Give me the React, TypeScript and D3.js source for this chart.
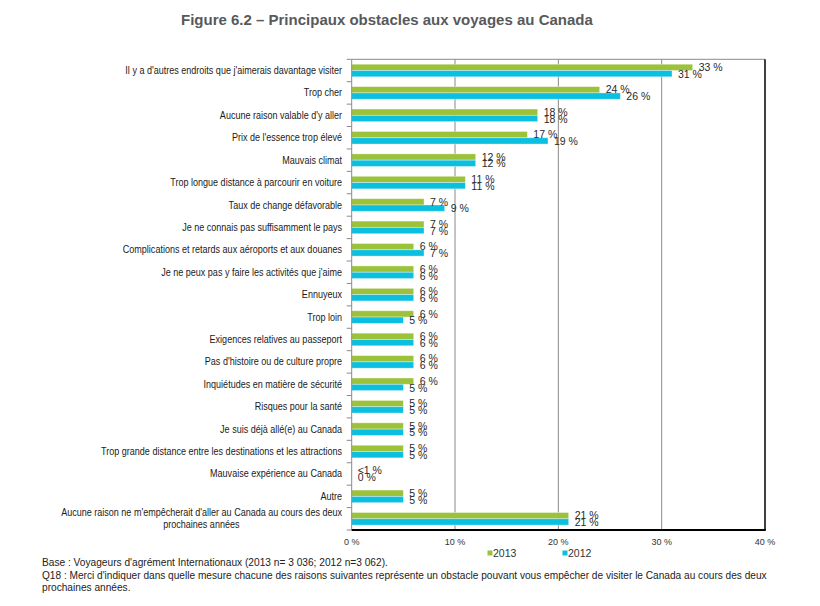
import React, { useEffect, useRef } from "react";
import * as d3 from "d3";

const categories: string[] = [
  "Il y a d'autres endroits que j'aimerais davantage visiter",
  "Trop cher",
  "Aucune raison valable d'y aller",
  "Prix de l'essence trop élevé",
  "Mauvais climat",
  "Trop longue distance à parcourir en voiture",
  "Taux de change défavorable",
  "Je ne connais pas suffisamment le pays",
  "Complications et retards aux aéroports et aux douanes",
  "Je ne peux pas y faire les activités que j'aime",
  "Ennuyeux",
  "Trop loin",
  "Exigences relatives au passeport",
  "Pas d'histoire ou de culture propre",
  "Inquiétudes en matière de sécurité",
  "Risques pour la santé",
  "Je suis déjà allé(e) au Canada",
  "Trop grande distance entre les destinations et les attractions",
  "Mauvaise expérience au Canada",
  "Autre",
  "Aucune raison ne m'empêcherait d'aller au Canada au cours des deux|prochaines années",
];

const values2013: number[] = [33, 24, 18, 17, 12, 11, 7, 7, 6, 6, 6, 6, 6, 6, 6, 5, 5, 5, 0, 5, 21];
const values2012: number[] = [31, 26, 18, 19, 12, 11, 9, 7, 7, 6, 6, 5, 6, 6, 5, 5, 5, 5, 0, 5, 21];
const labels2013: string[] = ["33 %", "24 %", "18 %", "17 %", "12 %", "11 %", "7 %", "7 %", "6 %", "6 %", "6 %", "6 %", "6 %", "6 %", "6 %", "5 %", "5 %", "5 %", "<1 %", "5 %", "21 %"];
const labels2012: string[] = ["31 %", "26 %", "18 %", "19 %", "12 %", "11 %", "9 %", "7 %", "7 %", "6 %", "6 %", "5 %", "6 %", "6 %", "5 %", "5 %", "5 %", "5 %", "0 %", "5 %", "21 %"];
const xTicks: number[] = [0, 10, 20, 30, 40];
const seriesNames: string[] = ["2013", "2012"];

const title = "Figure 6.2 – Principaux obstacles aux voyages au Canada";
const noteLines: string[] = [
  "Base : Voyageurs d'agrément Internationaux (2013 n= 3 036; 2012 n=3 062).",
  "Q18 : Merci d'indiquer dans quelle mesure chacune des raisons suivantes représente un obstacle pouvant vous empêcher de visiter le Canada au cours des deux",
  "prochaines années.",
];

const GREEN = "#9cc23a";
const CYAN = "#0abfdf";
const FONT = "'Liberation Sans', Arial, Helvetica, sans-serif";

export default function App() {
  const ref = useRef<SVGSVGElement | null>(null);

  useEffect(() => {
    const svg = d3.select(ref.current);
    svg.selectAll("*").remove();

    const left = 351.7, right = 765, top = 59.3, bottom = 530;
    const x = d3.scaleLinear().domain([0, 40]).range([left, right]);
    const y = d3.scaleBand<number>().domain(d3.range(categories.length)).range([top, bottom]);
    const bh = 6.3;

    // gridlines
    svg.append("g").selectAll("line").data(xTicks.slice(1, -1)).join("line")
      .attr("x1", d => x(d)).attr("x2", d => x(d)).attr("y1", top).attr("y2", bottom)
      .attr("stroke", "#8a8a8a").attr("stroke-width", 1);
    // top border
    svg.append("line").attr("x1", left).attr("x2", right).attr("y1", top).attr("y2", top)
      .attr("stroke", "#8a8a8a").attr("stroke-width", 1);

    // bars
    const g = svg.append("g");
    categories.forEach((_, i) => {
      const cy = (y(i) as number) + y.bandwidth() / 2;
      g.append("rect").attr("x", x(0)).attr("y", cy - bh).attr("width", x(values2013[i]) - x(0)).attr("height", bh)
        .attr("fill", GREEN).attr("stroke", "rgba(255,255,255,0.45)").attr("stroke-width", 0.8);
      g.append("rect").attr("x", x(0)).attr("y", cy).attr("width", x(values2012[i]) - x(0)).attr("height", bh)
        .attr("fill", CYAN).attr("stroke", "rgba(255,255,255,0.45)").attr("stroke-width", 0.8);
      g.append("text").attr("x", x(values2013[i]) + 6).attr("y", cy - bh / 2).attr("dy", "0.35em")
        .attr("font-size", 10.5).attr("fill", "#2a2a2a").attr("font-family", FONT).text(labels2013[i]);
      g.append("text").attr("x", x(values2012[i]) + 6).attr("y", cy + bh / 2 + 0.5).attr("dy", "0.35em")
        .attr("font-size", 10.5).attr("fill", "#2a2a2a").attr("font-family", FONT).text(labels2012[i]);
    });

    // left axis with ticks at band boundaries
    svg.append("line").attr("x1", left).attr("x2", left).attr("y1", top).attr("y2", bottom)
      .attr("stroke", "#8a8a8a").attr("stroke-width", 1);
    const bounds = d3.range(categories.length + 1).map(i => top + i * y.step());
    svg.append("g").selectAll("line").data(bounds).join("line")
      .attr("x1", left - 5).attr("x2", left).attr("y1", d => d).attr("y2", d => d)
      .attr("stroke", "#8a8a8a").attr("stroke-width", 1);

    // right border and bottom axis
    svg.append("line").attr("x1", right).attr("x2", right).attr("y1", top).attr("y2", bottom)
      .attr("stroke", "#000").attr("stroke-width", 1.5);
    svg.append("line").attr("x1", left).attr("x2", right + 0.75).attr("y1", bottom).attr("y2", bottom)
      .attr("stroke", "#000").attr("stroke-width", 1.8);

    // x tick labels
    svg.append("g").selectAll("text").data(xTicks).join("text")
      .attr("x", d => x(d)).attr("y", 541.7).attr("dy", "0.35em").attr("text-anchor", "middle")
      .attr("font-size", 9).attr("fill", "#333").attr("font-family", FONT).text(d => `${d} %`);

    // category labels (condensed)
    const catG = svg.append("g");
    const catTexts: any[] = [];
    categories.forEach((c, i) => {
      const cy = (y(i) as number) + y.bandwidth() / 2;
      const parts = c.split("|");
      const gg = catG.append("g").attr("transform", `translate(342,${cy})`);
      if (parts.length === 1) {
        const t = gg.append("text").attr("y", 0).attr("dy", "0.35em").attr("text-anchor", "end")
          .attr("font-size", 10).attr("fill", "#1a1a1a").attr("font-family", FONT).text(parts[0]);
        catTexts.push({ gg, t });
      } else {
        const t1 = gg.append("text").attr("y", -6).attr("dy", "0.35em").attr("text-anchor", "end")
          .attr("font-size", 10).attr("fill", "#1a1a1a").attr("font-family", FONT).text(parts[0]);
        const w1 = (t1.node() as SVGTextElement).getComputedTextLength();
        gg.append("text").attr("x", -w1 / 2).attr("y", 6).attr("dy", "0.35em").attr("text-anchor", "middle")
          .attr("font-size", 10).attr("fill", "#1a1a1a").attr("font-family", FONT).text(parts[1]);
      }
    });
    const firstW = (catTexts[0].t.node() as SVGTextElement).getComputedTextLength();
    const sx = 217 / firstW;
    catG.selectAll(":scope > g").attr("transform", function () {
      const tr = (this as SVGGElement).getAttribute("transform") || "";
      return `${tr} scale(${sx},1)`;
    });

    // legend
    const leg = svg.append("g");
    [[487.5, GREEN, seriesNames[0]], [562.5, CYAN, seriesNames[1]]].forEach(([lx, col, name]) => {
      leg.append("rect").attr("x", lx as number).attr("y", 550.5).attr("width", 5).attr("height", 5).attr("fill", col as string);
      leg.append("text").attr("x", (lx as number) + 5.5).attr("y", 553).attr("dy", "0.35em")
        .attr("font-size", 10.5).attr("fill", "#333").attr("font-family", FONT).text(name as string);
    });

    // title
    svg.append("text").attr("x", 181).attr("y", 25).attr("font-size", 15).attr("font-weight", "bold")
      .attr("fill", "#58595b").attr("font-family", FONT).text(title);

    // notes
    const noteY = [562, 575.5, 587.5];
    const targetW = [346, 726];
    noteLines.forEach((line, i) => {
      const ng = svg.append("g").attr("transform", `translate(42,${noteY[i]})`);
      const t = ng.append("text").attr("dy", "0.35em").attr("font-size", 10.5).attr("fill", "#222")
        .attr("font-family", FONT).text(line);
      const w = (t.node() as SVGTextElement).getComputedTextLength();
      const s = i < 2 ? targetW[i] / w : targetW[1] / ((svg.select("g.note1 text").node() as any)?.getComputedTextLength?.() || 1);
      ng.classed("note" + i, true);
      if (i < 2) ng.attr("transform", `translate(42,${noteY[i]}) scale(${s},1)`);
      else {
        const t1 = svg.select("g.note1 text").node() as SVGTextElement;
        const s1 = targetW[1] / t1.getComputedTextLength();
        ng.attr("transform", `translate(42,${noteY[i]}) scale(${s1},1)`);
      }
    });
  }, []);

  return (
    <svg ref={ref} width={820} height={606} style={{ position: "absolute", left: 0, top: 0, background: "#fff" }} />
  );
}
